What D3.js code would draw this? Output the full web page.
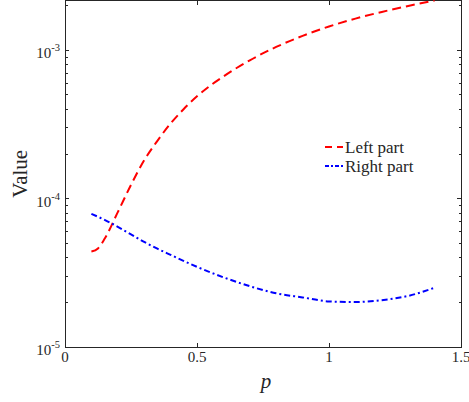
<!DOCTYPE html>
<html>
<head>
<meta charset="utf-8">
<script src="https://cdn.jsdelivr.net/npm/d3@7"></script>
<style>
  body { margin: 0; background: #fff; }
  text { font-family: "Liberation Serif", "Times New Roman", serif; fill: #262626; }
</style>
</head>
<body>
<svg id="chart"></svg>
<script>
// data
var pLeft = [0.1, 0.125, 0.15, 0.2, 0.25, 0.3, 0.35, 0.4, 0.45, 0.5, 0.55, 0.6, 0.65, 0.7,
             0.8, 0.9, 1.0, 1.1, 1.2, 1.3, 1.4];
var leftPart = [4.40e-5, 4.62e-5, 5.36e-5, 8.11e-5, 1.239e-4, 1.816e-4, 2.455e-4, 3.214e-4, 4.027e-4,
                4.898e-4, 5.781e-4, 6.668e-4, 7.603e-4, 8.57e-4, 1.054e-3, 1.253e-3, 1.449e-3,
                1.637e-3, 1.816e-3, 1.991e-3, 2.168e-3];
var pRight = [0.1, 0.15, 0.2, 0.25, 0.3, 0.35, 0.4, 0.5, 0.6, 0.7, 0.8, 0.9, 1.0, 1.1, 1.2, 1.3, 1.4];
var rightPart = [7.9e-5, 7.2e-5, 6.46e-5, 5.75e-5, 5.11e-5, 4.6e-5, 4.18e-5, 3.47e-5, 2.95e-5, 2.57e-5,
                 2.3e-5, 2.16e-5, 2.03e-5, 2.01e-5, 2.07e-5, 2.21e-5, 2.51e-5];
var seriesNames = ["Left part", "Right part"];
var xTicks = [0, 0.5, 1, 1.5];
var yTicks = [1e-5, 1e-4, 1e-3];

// *********************************************
// SETUP
// *********************************************
var width = 469, height = 402;
var margin = {top: 0.5, right: 8, bottom: 55, left: 65};
var w = width - margin.left - margin.right,
    h = height - margin.top - margin.bottom;

var svg = d3.select("#chart").attr("width", width).attr("height", height);
var g = svg.append("g").attr("transform", "translate(" + margin.left + "," + margin.top + ")");

var x = d3.scaleLinear().domain([0, 1.5]).range([0, w]);
var y = d3.scaleLog().domain([1e-5, d3.max(leftPart)]).range([h, 0]);

// minor ticks for log axis
var minor = [];
[1e-5, 1e-4, 1e-3].forEach(function(d) {
  for (var k = 2; k <= 9; k++) { if (d * k <= y.domain()[1]) minor.push(d * k); }
});

var axisCol = "#262626";

// ticks (inside, on all four sides)
var tk = g.append("g").attr("stroke", axisCol).attr("stroke-width", 1).attr("shape-rendering", "crispEdges");
xTicks.forEach(function(t) {
  tk.append("line").attr("x1", x(t)).attr("x2", x(t)).attr("y1", h).attr("y2", h - 4);
  tk.append("line").attr("x1", x(t)).attr("x2", x(t)).attr("y1", 0).attr("y2", 4);
});
yTicks.forEach(function(t) {
  tk.append("line").attr("x1", 0).attr("x2", 4).attr("y1", y(t)).attr("y2", y(t));
  tk.append("line").attr("x1", w).attr("x2", w - 4).attr("y1", y(t)).attr("y2", y(t));
});
minor.forEach(function(t) {
  tk.append("line").attr("x1", 0).attr("x2", 2.5).attr("y1", y(t)).attr("y2", y(t));
  tk.append("line").attr("x1", w).attr("x2", w - 2.5).attr("y1", y(t)).attr("y2", y(t));
});

// box
g.append("rect").attr("x", 0).attr("y", 0).attr("width", w).attr("height", h)
  .attr("fill", "none").attr("stroke", axisCol).attr("stroke-width", 1).attr("shape-rendering", "crispEdges");

// tick labels
g.selectAll(".xt").data(xTicks).enter().append("text")
  .attr("x", d => x(d)).attr("y", h + 15).attr("text-anchor", "middle")
  .style("font-size", "15px").text(d => d);

var yl = g.selectAll(".yt").data(yTicks).enter().append("text")
  .attr("x", -5).attr("y", d => y(d) + 8).attr("text-anchor", "end")
  .style("font-size", "15px");
yl.append("tspan").text("10");
yl.append("tspan").attr("dy", -7).style("font-size", "10.5px").text(d => Math.round(Math.log10(d)));

// axis titles
g.append("text").attr("transform", "translate(" + (-38) + "," + (h / 2) + ")rotate(-90)")
  .attr("text-anchor", "middle").style("font-size", "21px").text("Value");
g.append("text").attr("x", w / 2 + 3).attr("y", h + 41).attr("text-anchor", "middle")
  .style("font-size", "21px").style("font-style", "italic").text("p");

// lines
var line = d3.line().x(d => x(d[0])).y(d => y(d[1])).curve(d3.curveMonotoneX);
var leftData = pLeft.map((p, i) => [p, leftPart[i]]);
var rightData = pRight.map((p, i) => [p, rightPart[i]]);

g.append("path").datum(leftData).attr("d", line).attr("fill", "none")
  .attr("stroke", "#ff0000").attr("stroke-width", 2).attr("stroke-dasharray", "9,5");
g.append("path").datum(rightData).attr("d", line).attr("fill", "none")
  .attr("stroke", "#0000ff").attr("stroke-width", 2).attr("stroke-dasharray", "6,3,2,3");

// legend
var lg = svg.append("g").attr("transform", "translate(325,147)");
var styles = [{c: "#ff0000", d: "7,5"}, {c: "#0000ff", d: "4,2,2,2"}];
seriesNames.forEach(function(n, i) {
  lg.append("line").attr("x1", 0).attr("x2", 18).attr("y1", i * 19).attr("y2", i * 19)
    .attr("stroke", styles[i].c).attr("stroke-width", 2).attr("stroke-dasharray", styles[i].d);
  lg.append("text").attr("x", 20).attr("y", i * 19 + 5.5).style("font-size", "17px").text(n);
});
</script>
</body>
</html>
